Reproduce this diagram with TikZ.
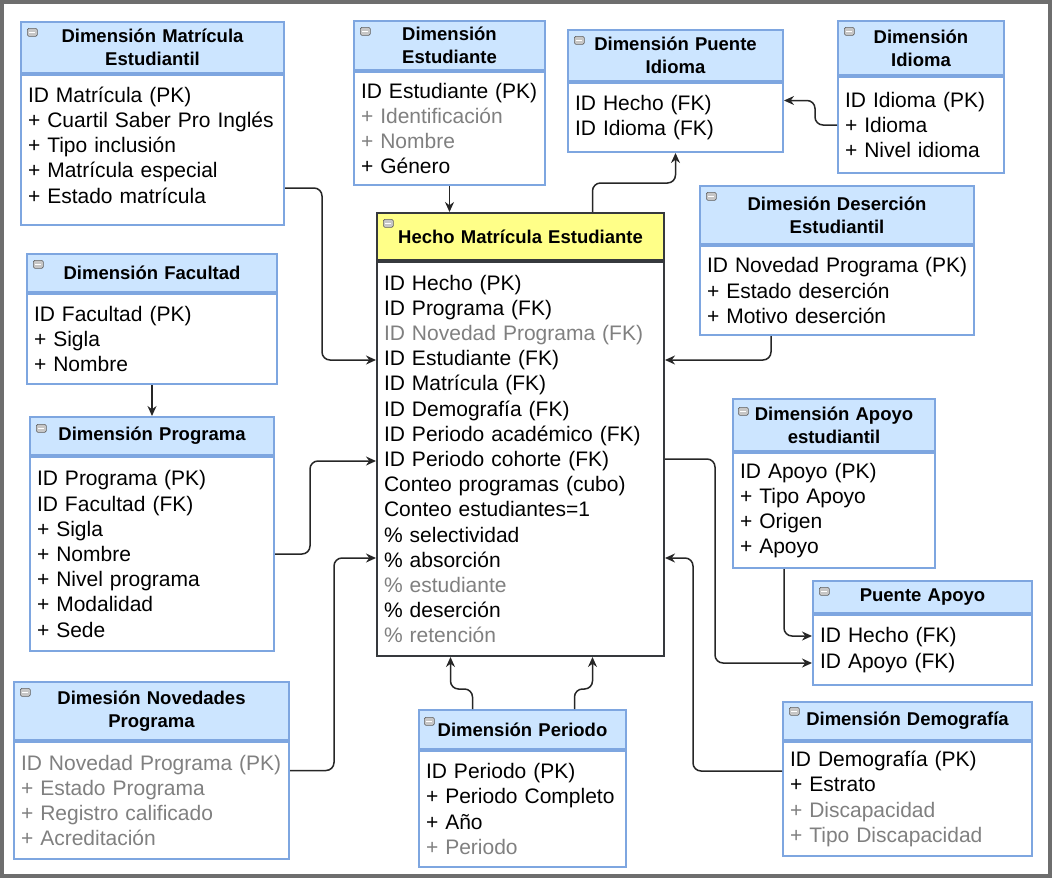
\documentclass[tikz,border=0pt]{standalone}
\usepackage{fontspec}
\setmainfont{Liberation Sans}
\usetikzlibrary{calc}
\usetikzlibrary{arrows.meta}

\definecolor{hdrblue}{HTML}{CCE5FF}
\definecolor{boxblue}{HTML}{7EA6E0}
\definecolor{hechofill}{HTML}{FFFF88}
\definecolor{hecholine}{HTML}{36393D}
\definecolor{txtgray}{HTML}{808080}
\definecolor{framegray}{HTML}{6E6E6E}
\newcommand{\gtxt}[1]{\textcolor{txtgray}{#1}}

\begin{document}
\begin{tikzpicture} [x=1pt, y=-1pt,
            hdr/.style={draw=boxblue, fill=hdrblue, line width=2pt, anchor=north west, align=center,
                        inner xsep=4pt, inner ysep=0pt, font=\fontsize{18.5}{23}\selectfont\bfseries},
            bdy/.style={draw=boxblue, fill=white, line width=2pt, anchor=north west, align=left,
                        inner xsep=7pt, inner ysep=0pt, font=\fontsize{21}{25.2}\selectfont},
            tog/.style={anchor=north west, draw=gray!75!black, fill=gray!45, rounded corners=1.5pt,
                        line width=0.6pt, minimum width=10pt, minimum height=8pt, inner sep=0pt,
                        path picture={\draw[white, line width=1.3pt]
                          ([xshift=2pt]path picture bounding box.west) -- ([xshift=-2pt]path picture bounding box.east);}},
            fk/.style={-{Stealth[length=10pt,width=9pt]}, line width=1.5pt, draw=black!85, rounded corners=8pt}]
\useasboundingbox (0,0) rectangle (1052,878);
\draw[framegray, line width=4pt] (2,2) rectangle (1050,876);

% tablas de dimension
\node[hdr, text width=255pt, minimum height=51pt] (matH) at (20,21) {Dimensión Matrícula\\Estudiantil};
\node[bdy, text width=249pt, minimum height=150pt] (matB) at (matH.south west)
  {ID Matrícula (PK)\\+ Cuartil Saber Pro Inglés\\+ Tipo inclusión\\+ Matrícula especial\\+ Estado matrícula\\[-15pt]\mbox{}};
\node[tog] (matT) at ($(matH.north west)+(7,7)$) {};

\node[hdr, text width=183pt, minimum height=49pt] (estH) at (353,20) {Dimensión\\Estudiante};
\node[bdy, text width=177pt, minimum height=113pt] (estB) at (estH.south west)
  {\mbox{ID Estudiante (PK)}\\\gtxt{+ Identificación}\\\gtxt{+ Nombre}\\+ Género};
\node[tog] (estT) at ($(estH.north west)+(7,7)$) {};

\node[hdr, text width=207pt, minimum height=51pt] (pidH) at (567,29) {Dimensión Puente\\Idioma};
\node[bdy, text width=201pt, minimum height=69pt] (pidB) at (pidH.south west)
  {ID Hecho (FK)\\ID Idioma (FK)};
\node[tog] (pidT) at ($(pidH.north west)+(7,7)$) {};

\node[hdr, text width=158pt, minimum height=54pt] (idiH) at (837,20) {Dimensión\\Idioma};
\node[bdy, text width=152pt, minimum height=96pt] (idiB) at (idiH.south west)
  {ID Idioma (PK)\\+ Idioma\\+ Nivel idioma};
\node[tog] (idiT) at ($(idiH.north west)+(7,7)$) {};

\node[hdr, text width=266pt, minimum height=58pt] (desH) at (699,185) {Dimesión Deserción\\Estudiantil};
\node[bdy, text width=260pt, minimum height=89pt] (desB) at (desH.south west)
  {\mbox{ID Novedad Programa (PK)}\\+ Estado deserción\\+ Motivo deserción};
\node[tog] (desT) at ($(desH.north west)+(7,7)$) {};

\node[hdr, text width=242pt, minimum height=38pt] (facH) at (26,253) {Dimensión Facultad};
\node[bdy, text width=236pt, minimum height=90pt] (facB) at (facH.south west)
  {ID Facultad (PK)\\+ Sigla\\+ Nombre};
\node[tog] (facT) at ($(facH.north west)+(7,7)$) {};

\node[hdr, text width=236pt, minimum height=38pt] (proH) at (29,416) {Dimensión Programa};
\node[bdy, text width=230pt, minimum height=194pt] (proB) at (proH.south west)
  {ID Programa (PK)\\ID Facultad (FK)\\+ Sigla\\+ Nombre\\+ Nivel programa\\+ Modalidad\\+ Sede};
\node[tog] (proT) at ($(proH.north west)+(7,8)$) {};

\node[hdr, text width=194pt, minimum height=52pt] (apoH) at (732,398) {Dimensión Apoyo\\estudiantil};
\node[bdy, text width=188pt, minimum height=115pt] (apoB) at (apoH.south west)
  {ID Apoyo (PK)\\+ Tipo Apoyo\\+ Origen\\+ Apoyo};
\node[tog] (apoT) at ($(apoH.north west)+(6,9)$) {};

\node[hdr, text width=211pt, minimum height=32pt] (papH) at (812,580) {Puente Apoyo};
\node[bdy, text width=205pt, minimum height=70pt] (papB) at (papH.south west)
  {ID Hecho (FK)\\ID Apoyo (FK)};
\node[tog] (papT) at ($(papH.north west)+(7,7)$) {};

\node[hdr, text width=267pt, minimum height=58pt] (novH) at (13,681) {Dimesión Novedades\\Programa};
\node[bdy, text width=261pt, minimum height=117pt, text=txtgray] (novB) at (novH.south west)
  {\mbox{ID Novedad Programa (PK)}\\+ Estado Programa\\+ Registro calificado\\+ Acreditación};
\node[tog] (novT) at ($(novH.north west)+(7,7)$) {};

\node[hdr, text width=199pt, minimum height=39pt] (perH) at (418,709) {Dimensión Periodo};
\node[bdy, text width=193pt, minimum height=116pt] (perB) at (perH.south west)
  {ID Periodo (PK)\\+ Periodo Completo\\+ Año\\\gtxt{+ Periodo}};
\node[tog] (perT) at ($(perH.north west)+(6,8)$) {};

\node[hdr, text width=241pt, minimum height=38pt] (demH) at (782,701) {Dimensión Demografía};
\node[bdy, text width=235pt, minimum height=114pt] (demB) at (demH.south west)
  {ID Demografía (PK)\\+ Estrato\\\gtxt{+ Discapacidad}\\\gtxt{+ Tipo Discapacidad}};
\node[tog] (demT) at ($(demH.north west)+(7,6)$) {};

% tabla de hechos
\node[hdr, fill=hechofill, draw=hecholine, text width=279pt, minimum height=47pt] (hecH) at (376,212)
  {Hecho Matrícula Estudiante};
\node[bdy, draw=hecholine, text width=273pt, minimum height=394pt] (hecB) at (hecH.south west)
  {ID Hecho (PK)\\ID Programa (FK)\\\gtxt{ID Novedad Programa (FK)}\\ID Estudiante (FK)\\ID Matrícula (FK)\\
   ID Demografía (FK)\\ID Periodo académico (FK)\\ID Periodo cohorte (FK)\\Conteo programas (cubo)\\
   Conteo estudiantes=1\\\% selectividad\\\% absorción\\\gtxt{\% estudiante}\\\% deserción\\\gtxt{\% retención}};
\node[tog] (hecT) at ($(hecH.north west)+(7,7)$) {};

% relaciones
\draw[fk] ($(matB.east)+(0,38)$) -- ++(37,0) |- ($(hecB.west)+(0,-99)$);
\draw[fk] (estB.south) -- (estB.south |- hecH.north);
\draw[fk] ($(hecH.north)+(72,0)$) -- ++(0,-29) -| (pidB.south);
\draw[fk] (idiB.west) -- ++(-22,0) |- ($(pidB.east)+(0,-17)$);
\draw[fk] ($(desB.south)+(-66,0)$) |- ($(hecB.east)+(0,-99)$);
\draw[fk] (facB.south) -- (facB.south |- proH.north);
\draw[fk] (proB.east) -- ++(35,0) |- ($(hecB.west)+(0,2)$);
\draw[fk] ($(novB.east)+(0,-30)$) -- ++(44,0) |- ($(hecB.west)+(0,99)$);
\draw[fk] ($(perH.north)+(-50,0)$) -- ++(0,-20) -| ($(hecB.south)+(-70,0)$);
\draw[fk] ($(perH.north)+(52,0)$) -- ++(0,-20) -| ($(hecB.south)+(72,0)$);
\draw[fk] (hecB.east) -- ++(50,0) |- ($(papB.west)+(0,13)$);
\draw[fk] ($(apoB.south)+(-50,0)$) |- ($(papB.west)+(0,-14)$);
\draw[fk] ($(demB.west)+(0,-28)$) -- ++(-89,0) |- ($(hecB.east)+(0,99)$);
\end{tikzpicture}
\end{document}
